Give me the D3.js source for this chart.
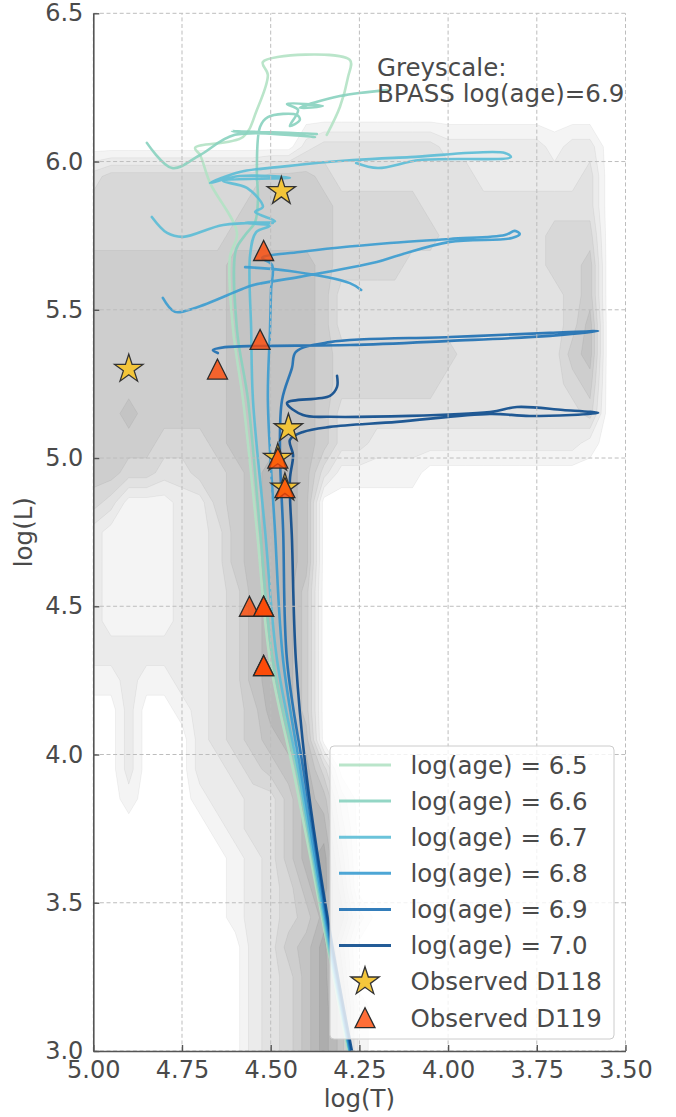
<!DOCTYPE html>
<html><head><meta charset="utf-8">
<script src="https://cdn.jsdelivr.net/npm/d3@7"></script>
<style>
html,body{margin:0;padding:0;background:#fff;}
svg{display:block;font-family:"DejaVu Sans",sans-serif;}
</style></head><body>
<svg id="chart" width="676" height="1117"></svg>
<script>
// ---------------- data ----------------
const xTicks = [5.00, 4.75, 4.50, 4.25, 4.00, 3.75, 3.50];
const xTickLabels = ["5.00", "4.75", "4.50", "4.25", "4.00", "3.75", "3.50"];
const yTicks = [3.0, 3.5, 4.0, 4.5, 5.0, 5.5, 6.0, 6.5];
const yTickLabels = ["3.0", "3.5", "4.0", "4.5", "5.0", "5.5", "6.0", "6.5"];

const trackAges = ["6.5", "6.6", "6.7", "6.8", "6.9", "7.0"];
const trackColors = ["#b3e2c4", "#88d1bf", "#5bbcd6", "#3a9cd0", "#1d6fb3", "#0b4a8c"];

// [logT, logL]; null = break in the track
const track65 = [[4.282,3.0],[4.344,3.381],[4.432,3.92],[4.502,4.318],[4.539,4.757],[4.578,5.196],[4.606,5.432],[4.615,5.678],[4.595,5.759],[4.671,5.928],[4.699,6.022],[4.713,6.046],[4.578,6.083],[4.539,6.174],[4.508,6.292],[4.522,6.336],[4.277,6.343],[4.282,6.285],[4.305,6.184],[4.342,6.090]];
const track66 = [[4.279,3.0],[4.342,3.381],[4.423,3.92],[4.494,4.318],[4.530,4.757],[4.564,5.196],[4.595,5.432],[4.598,5.702],[4.572,5.752],[4.544,5.796],[4.536,5.870],[4.539,5.972],[4.530,6.117],[4.508,6.150],[4.426,6.157],[4.418,6.140],[4.446,6.120],[4.423,6.174],[4.454,6.194],[4.353,6.187],[4.418,6.181],[4.305,6.221],[4.172,6.241], null, [4.370,6.093],[4.609,6.103],[4.375,6.083],[4.601,6.090],[4.699,6.022],[4.778,5.978],[4.849,6.063]];
const track67 = [[4.277,3.0],[4.339,3.381],[4.418,3.92],[4.482,4.318],[4.516,4.757],[4.550,5.196],[4.555,5.432],[4.558,5.685],[4.541,5.762],[4.502,5.783],[4.572,5.793],[4.488,5.799],[4.544,5.830],[4.522,5.847],[4.567,5.911],[4.634,5.934],[4.446,5.945],[4.587,5.951],[4.671,5.928],[4.587,5.965],[4.474,5.982],[4.268,6.005],[4.107,6.015],[3.840,6.029],[3.823,6.015],[4.079,6.005],[4.198,5.978],[4.259,5.995], null, [4.835,5.813],[4.792,5.759],[4.747,5.746],[4.634,5.786],[4.494,5.793]];
const track68 = [[4.277,3.0],[4.336,3.381],[4.412,3.92],[4.465,4.318],[4.488,4.757],[4.508,5.196],[4.502,5.432],[4.499,5.567],[4.496,5.651],[4.524,5.675],[4.418,5.695],[4.164,5.725],[3.995,5.739],[3.840,5.752],[3.812,5.766],[3.798,5.756],[3.820,5.742],[3.995,5.729],[4.136,5.685],[4.201,5.661],[4.418,5.611],[4.524,5.590],[4.558,5.580],[4.713,5.506],[4.770,5.493],[4.804,5.540], null, [4.572,5.644],[4.446,5.631],[4.277,5.590],[4.245,5.567]];
const track69 = [[4.274,3.0],[4.333,3.381],[4.404,3.92],[4.454,4.318],[4.465,4.757],[4.474,5.027],[4.468,5.196],[4.440,5.304],[4.429,5.358],[4.333,5.391],[3.995,5.408],[3.713,5.422],[3.577,5.428],[3.713,5.412],[3.995,5.395],[4.277,5.381],[4.530,5.378],[4.629,5.374],[4.663,5.364],[4.649,5.354]];
const track70 = [[4.271,3.0],[4.330,3.381],[4.398,3.92],[4.429,4.318],[4.440,4.724],[4.446,4.926],[4.437,5.010],[4.446,5.061],[4.409,5.088],[4.333,5.105],[4.144,5.122],[3.882,5.149],[3.770,5.142],[3.577,5.152],[3.676,5.162],[3.806,5.172],[3.882,5.155],[4.333,5.139],[4.409,5.145],[4.454,5.186],[4.333,5.210],[4.313,5.240],[4.313,5.277]];
const tracks = [track65, track66, track67, track68, track69, track70];

const d118 = [[4.90,5.30],[4.47,5.90],[4.45,5.10],[4.48,5.00],[4.46,4.90]];
const d119 = [[4.52,5.70],[4.53,5.40],[4.65,5.30],[4.48,5.00],[4.46,4.90],[4.56,4.50],[4.52,4.50],[4.52,4.50],[4.52,4.30],[4.52,4.30]];

// BPASS log(age)=6.9 density levels.
// columns: logT = 5.00, 4.95, ... 3.55 ; rows: logL = 6.15 (top) ... 2.95 (bottom)
const densityLogTStart = 5.00, densityLogTStep = 0.05;
const densityLogLStart = 6.15, densityLogLStep = 0.1;
const densityRows = [
"000000000000000000000000000000",
"000000000000233333332222221220",
"344444444455543333333322222230",
"444444444555554444433333333330",
"444444445555554444443333334440",
"555555556666654444333333334450",
"555555556666653333333333333450",
"555555556666653333333333333460",
"555555556666654444444333333560",
"555555556666654444443333333450",
"556555556666653333333333333340",
"555544456667653322222222222210",
"554433445677631111100000000000",
"431112245677600000000000000000",
"211112235677600000000000000000",
"211112235677600000000000000000",
"211112234677500000000000000000",
"211112234677500000000000000000",
"222222234677500000000000000000",
"112112234677500000000000000000",
"002001234577500000000000000000",
"002000234567600000000000000000",
"002000223456740000000000000000",
"001000122335762000000000000000",
"000000012335773000000000000000",
"000000001235784000000000000000",
"000000001234685000000000000000",
"000000001234576200000000000000",
"000000000235684000000000000000",
"000000000234685000000000000000",
"000000000234686100000000000000",
"000000000234686100000000000000",
"000000000234686100000000000000"
];
const densityThresholds = [0.5, 1.5, 2.5, 3.5, 4.5, 5.5, 6.5, 7.5];
const levelColors = ["#f4f4f4", "#ebebeb", "#e2e2e2", "#d8d8d8", "#cecece", "#c4c4c4", "#b9b9b9", "#adadad"];

const annotationLines = ["Greyscale:", "BPASS log(age)=6.9"];
const legendMarkerLabels = ["Observed D118", "Observed D119"];

// ---------------- drawing ----------------
const svg = d3.select("#chart");
const x = d3.scaleLinear().domain([5.0, 3.5]).range([93.3, 625.5]);
const y = d3.scaleLinear().domain([3.0, 6.5]).range([1051, 13.3]);
const textColor = "#4a4a4a";

svg.append("defs").append("clipPath").attr("id", "plotClip").append("rect")
  .attr("x", x(5.0)).attr("y", y(6.5))
  .attr("width", x(3.5) - x(5.0)).attr("height", y(3.0) - y(6.5));

const plot = svg.append("g").attr("clip-path", "url(#plotClip)");

// density contours
const nx = densityRows[0].length, ny = densityRows.length;
const values = [];
densityRows.forEach(r => { for (const ch of r) values.push(+ch); });
const contourSets = d3.contours().size([nx, ny]).thresholds(densityThresholds)(values);
const proj = d3.geoTransform({
  point(gx, gy) {
    this.stream.point(
      x(densityLogTStart - densityLogTStep * (gx - 0.5)),
      y(densityLogLStart - densityLogLStep * (gy - 0.5)));
  }
});
const gpath = d3.geoPath(proj);
plot.append("g").selectAll("path").data(contourSets).join("path")
  .attr("d", gpath)
  .attr("fill", (d, i) => levelColors[i])
  .attr("stroke", "#000").attr("stroke-opacity", 0.07).attr("stroke-width", 0.7);

// grid
const grid = svg.append("g").attr("stroke", "#bdbdbd").attr("stroke-width", 1)
  .attr("stroke-dasharray", "4,2.6");
xTicks.forEach(t => grid.append("line").attr("x1", x(t)).attr("x2", x(t)).attr("y1", y(3.0)).attr("y2", y(6.5)));
yTicks.forEach(t => grid.append("line").attr("y1", y(t)).attr("y2", y(t)).attr("x1", x(5.0)).attr("x2", x(3.5)));

// tracks
const line = d3.line().defined(d => d !== null)
  .x(d => x(d[0])).y(d => y(d[1])).curve(d3.curveCatmullRom.alpha(0.5));
const trackG = plot.append("g");
tracks.forEach((t, i) => {
  trackG.append("path").attr("d", line(t)).attr("fill", "none")
    .attr("stroke", trackColors[i]).attr("stroke-width", 2.6)
    .attr("stroke-opacity", 0.9).attr("stroke-linejoin", "round").attr("stroke-linecap", "round");
});

// markers
const starPath = d3.symbol().type(d3.symbolStar).size(250)();
const triSize = 10;
const triPath = d3.line()([[0, -triSize], [-triSize, triSize], [triSize, triSize]]) + "Z";
const markG = svg.append("g");
markG.selectAll("path.star").data(d118).join("path").attr("class", "star")
  .attr("d", starPath)
  .attr("transform", d => `translate(${x(d[0])},${y(d[1])})`)
  .attr("fill", "#f4c430").attr("fill-opacity", 0.95)
  .attr("stroke", "#333").attr("stroke-width", 1.3).attr("stroke-linejoin", "miter");
markG.selectAll("path.tri").data(d119).join("path").attr("class", "tri")
  .attr("d", triPath)
  .attr("transform", d => `translate(${x(d[0])},${y(d[1])})`)
  .attr("fill", "#ff4500").attr("fill-opacity", 0.78)
  .attr("stroke", "#2b2b2b").attr("stroke-width", 1.3).attr("stroke-linejoin", "miter");

// annotation
const ann = svg.append("text").attr("x", 377).attr("y", 76)
  .attr("font-size", 24.5).attr("fill", textColor);
annotationLines.forEach((s, i) => ann.append("tspan").attr("x", 377).attr("dy", i === 0 ? 0 : 26).text(s));

// legend
const lg = svg.append("g");
const lgX = 330, lgY = 746, lgW = 284, lgH = 293;
lg.append("rect").attr("x", lgX).attr("y", lgY).attr("width", lgW).attr("height", lgH)
  .attr("rx", 4).attr("fill", "#fff").attr("fill-opacity", 0.8)
  .attr("stroke", "#cccccc").attr("stroke-width", 1);
const rowY0 = 765, rowDy = 36.1;
const legendLabels = trackAges.map(a => `log(age) = ${a}`).concat(legendMarkerLabels);
legendLabels.forEach((lab, i) => {
  const yy = rowY0 + i * rowDy;
  if (i < trackAges.length) {
    lg.append("line").attr("x1", 339).attr("x2", 391).attr("y1", yy).attr("y2", yy)
      .attr("stroke", trackColors[i]).attr("stroke-width", 3).attr("stroke-opacity", 0.9);
  } else if (i === trackAges.length) {
    lg.append("path").attr("d", starPath).attr("transform", `translate(365,${yy})`)
      .attr("fill", "#f4c430").attr("fill-opacity", 0.95).attr("stroke", "#333").attr("stroke-width", 1.3);
  } else {
    lg.append("path").attr("d", triPath).attr("transform", `translate(365,${yy})`)
      .attr("fill", "#ff4500").attr("fill-opacity", 0.78).attr("stroke", "#2b2b2b").attr("stroke-width", 1.3);
  }
  lg.append("text").attr("x", 410.5).attr("y", yy).attr("dy", "0.36em")
    .attr("font-size", 24.5).attr("fill", textColor).text(lab);
});

// axes
const xAxis = d3.axisBottom(x).tickValues(xTicks).tickFormat((d, i) => xTickLabels[i])
  .tickSizeInner(-6).tickSizeOuter(0).tickPadding(10);
const yAxis = d3.axisLeft(y).tickValues(yTicks).tickFormat((d, i) => yTickLabels[i])
  .tickSizeInner(-6).tickSizeOuter(0).tickPadding(10);
const gx = svg.append("g").attr("transform", `translate(0,${y(3.0)})`).call(xAxis);
const gy = svg.append("g").attr("transform", `translate(${x(5.0)},0)`).call(yAxis);
[gx, gy].forEach(g => {
  g.select(".domain").attr("stroke", "#555").attr("stroke-width", 1.6);
  g.selectAll(".tick line").attr("stroke", "#555").attr("stroke-width", 1.4);
  g.selectAll(".tick text").attr("font-size", 24).attr("fill", textColor)
    .attr("font-family", "DejaVu Sans");
});

svg.append("text").attr("x", (x(5.0) + x(3.5)) / 2).attr("y", 1107)
  .attr("text-anchor", "middle").attr("font-size", 24.5).attr("fill", textColor).text("log(T)");
svg.append("text").attr("transform", `translate(32,${(y(3.0) + y(6.5)) / 2}) rotate(-90)`)
  .attr("text-anchor", "middle").attr("font-size", 24.5).attr("fill", textColor).text("log(L)");
</script>
</body></html>
